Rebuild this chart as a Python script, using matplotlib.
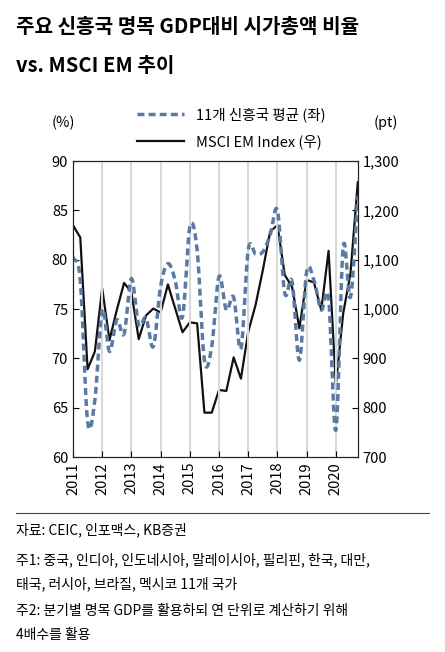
import matplotlib.pyplot as plt
import numpy as np

plt.rcParams['font.family'] = ['Noto Sans CJK KR', 'DejaVu Sans']

# quarterly, 2011Q1 .. 2020Q4
quarters = np.arange(40)
gdp_ratio = [80.3, 77.9, 63.6, 65.8, 74.9, 70.7, 73.9, 72.5, 78.1, 73.4,
             74.1, 71.2, 77.3, 79.6, 77.9, 74.2, 83.3, 81.0, 69.8, 71.2,
             78.3, 74.9, 76.2, 71.0, 81.0, 80.6, 80.8, 82.5, 85.0, 76.6,
             77.8, 69.8, 78.8, 77.9, 74.9, 76.1, 62.7, 81.3, 76.2, 86.4]
msci = [1170, 1145, 878, 914, 1042, 937, 998, 1053, 1034, 939,
        987, 1001, 993, 1050, 1001, 953, 973, 971, 790, 790,
        836, 834, 902, 859, 954, 1008, 1079, 1157, 1170, 1069,
        1045, 961, 1059, 1054, 998, 1118, 846, 991, 1072, 1257]
years = list(range(2011, 2021))


def smooth(x, y, n=12):
    # Catmull-Rom curve through the points, like Excel's smoothed line
    x = np.asarray(x, float)
    y = np.asarray(y, float)
    px = np.concatenate([[2 * x[0] - x[1]], x, [2 * x[-1] - x[-2]]])
    py = np.concatenate([[2 * y[0] - y[1]], y, [2 * y[-1] - y[-2]]])
    xs, ys = [], []
    t = np.linspace(0, 1, n, endpoint=False)
    for i in range(1, len(px) - 2):
        for p, out in ((px, xs), (py, ys)):
            p0, p1, p2, p3 = p[i - 1:i + 3]
            out.extend(0.5 * (2 * p1 + (-p0 + p2) * t
                              + (2 * p0 - 5 * p1 + 4 * p2 - p3) * t ** 2
                              + (-p0 + 3 * p1 - 3 * p2 + p3) * t ** 3))
    xs.append(x[-1])
    ys.append(y[-1])
    return np.array(xs), np.array(ys)


fig = plt.figure(figsize=(4.45, 6.52), dpi=100)
ax = fig.add_axes([0.164, 0.299, 0.640, 0.454])
ax2 = ax.twinx()

sx, sy = smooth(quarters, gdp_ratio)
l1, = ax.plot(sx, sy, color='#5b7aa3', lw=2.5, ls=(0, (2, 1.2)),
              label='11개 신흥국 평균 (좌)')
l2, = ax2.plot(quarters, msci, color='#111111', lw=1.6,
               label='MSCI EM Index (우)')
ax.set_zorder(ax2.get_zorder() + 1)
ax.patch.set_visible(False)

ax.set_xlim(0, 39)
ax.set_ylim(60, 90)
ax2.set_ylim(700, 1300)
ax.set_yticks(range(60, 91, 5))
ax2.set_yticks(range(700, 1301, 100))
ax2.set_yticklabels([f'{v:,}' for v in range(700, 1301, 100)])
ax.set_xticks([(y - 2011) * 4 for y in years])
ax.set_xticklabels([str(y) for y in years], rotation=90)
for y in years[1:]:
    ax.axvline((y - 2011) * 4, color='#d9d9d9', lw=1.5, zorder=0)
for a in (ax, ax2):
    a.tick_params(labelsize=10.5, direction='in', length=4)
    for s in a.spines.values():
        s.set_color('#222222')

fig.text(0.115, 0.805, '(%)', fontsize=10.5)
fig.text(0.84, 0.805, '(pt)', fontsize=10.5)

fig.legend(handles=[l1, l2], loc='upper center', bbox_to_anchor=(0.52, 0.855),
           frameon=False, fontsize=10.5, handlelength=3.2, labelspacing=0.8)

fig.text(0.035, 0.975, '주요 신흥국 명목 GDP대비 시가총액 비율', fontsize=14.5,
         fontweight='bold', va='top')
fig.text(0.035, 0.915, 'vs. MSCI EM 추이', fontsize=14.5,
         fontweight='bold', va='top')

fig.add_artist(plt.Line2D([0.035, 0.965], [0.213, 0.213], color='#444444', lw=0.8))
notes = [(0.198, '자료: CEIC, 인포맥스, KB증권'),
         (0.153, '주1: 중국, 인디아, 인도네시아, 말레이시아, 필리핀, 한국, 대만,'),
         (0.115, '태국, 러시아, 브라질, 멕시코 11개 국가'),
         (0.073, '주2: 분기별 명목 GDP를 활용하되 연 단위로 계산하기 위해'),
         (0.037, '4배수를 활용')]
for yy, txt in notes:
    fig.text(0.035, yy, txt, fontsize=10, va='top')

fig.savefig('out.png', dpi=100)
